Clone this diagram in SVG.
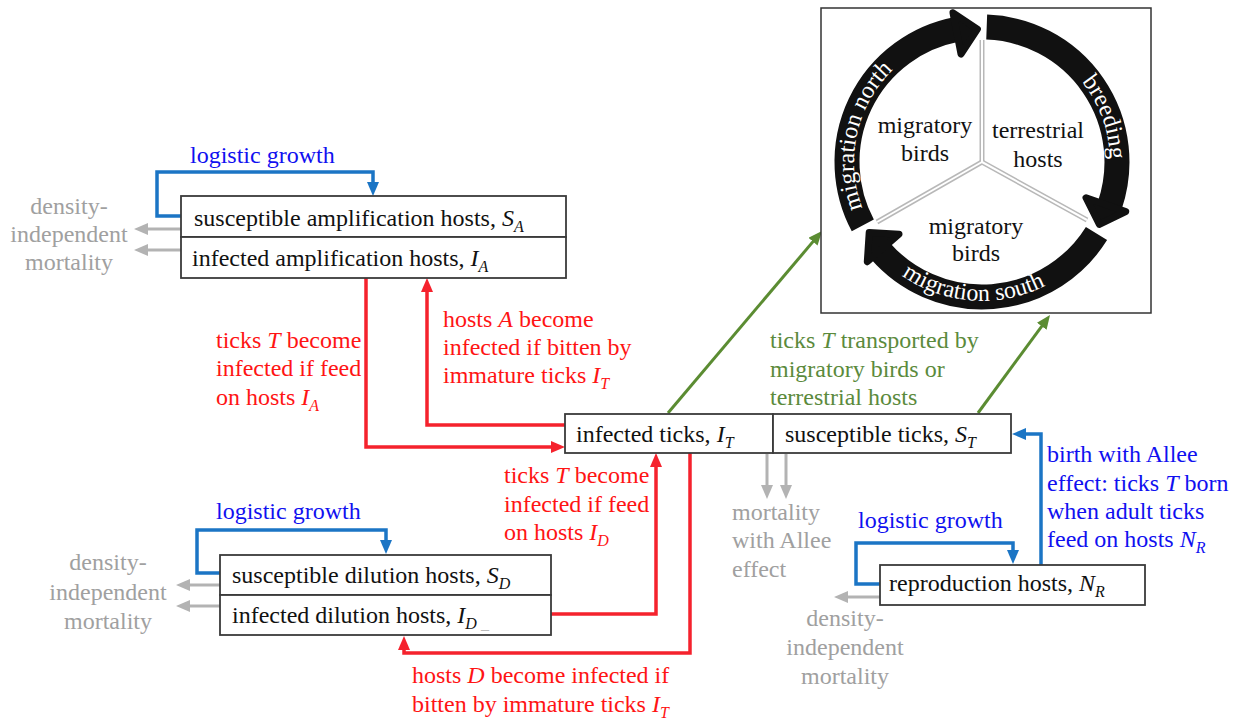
<svg xmlns="http://www.w3.org/2000/svg" width="1236" height="722" viewBox="0 0 1236 722">
<style>
.t{font-family:"Liberation Serif","Times New Roman",serif;font-size:24px}
.s{font-size:16px;font-style:italic}
.i{font-style:italic}
.red{fill:#ff1414}.blue{fill:#1010f0}.gray{fill:#a0a0a0}.green{fill:#5b8a3c}.blk{fill:#111}.wht{fill:#fff}
.mid{text-anchor:middle}
.box{fill:#fff;stroke:#3a3a3a;stroke-width:1.8}
.cr{fill:none;stroke:#f5222d;stroke-width:3.5}
.cb{fill:none;stroke:#1b75c5;stroke-width:3.5}
.cg{fill:none;stroke:#b3b3b3;stroke-width:3}
.cgr{fill:none;stroke:#5b8c32;stroke-width:3}
.spk1{stroke:#b8b8b8;stroke-width:5;fill:none}
.spk2{stroke:#fff;stroke-width:2;fill:none}
.ring{fill:none;stroke:#111;stroke-width:25}
.head{fill:#111;stroke:#111;stroke-width:7;stroke-linejoin:round}
</style>
<defs>
<marker id="mr" markerUnits="userSpaceOnUse" markerWidth="14" markerHeight="12" refX="3" refY="6" orient="auto"><path d="M0,0 L14,6 L0,12 z" fill="#f5222d"/></marker>
<marker id="mb" markerUnits="userSpaceOnUse" markerWidth="14" markerHeight="12" refX="3" refY="6" orient="auto"><path d="M0,0 L14,6 L0,12 z" fill="#1b75c5"/></marker>
<marker id="mg" markerUnits="userSpaceOnUse" markerWidth="14" markerHeight="12" refX="3" refY="6" orient="auto"><path d="M0,0 L14,6 L0,12 z" fill="#b3b3b3"/></marker>
<marker id="mgr" markerUnits="userSpaceOnUse" markerWidth="14" markerHeight="12" refX="3" refY="6" orient="auto"><path d="M0,0 L14,6 L0,12 z" fill="#5b8c32"/></marker>
<path id="pN" d="M891.5,252.5 A128,128 0 0 1 938.2,41.7"/>
<path id="pB" d="M1055.4,57.1 A128,128 0 0 1 1105.6,195.1"/>
<path id="pS" d="M857.1,222.9 A139,139 0 0 0 1097.2,239.7"/>
</defs>

<g id="connectors">
<path class="cr" d="M366,278 V447 H554" marker-end="url(#mr)"/>
<path class="cr" d="M565,425 H427 V289" marker-end="url(#mr)"/>
<path class="cr" d="M551,614 H656 V464" marker-end="url(#mr)"/>
<path class="cr" d="M690,453 V653 H404 V647" marker-end="url(#mr)"/>
<path class="cb" d="M181,216 H157 V172 H373 V185" marker-end="url(#mb)"/>
<path class="cb" d="M220,573 H197 V530 H386 V543" marker-end="url(#mb)"/>
<path class="cb" d="M880,584 H856 V543 H1013 V553" marker-end="url(#mb)"/>
<path class="cb" d="M1041,565 V434 H1023" marker-end="url(#mb)"/>
<path class="cg" d="M181,229 H145" marker-end="url(#mg)"/>
<path class="cg" d="M181,250 H145" marker-end="url(#mg)"/>
<path class="cg" d="M220,585 H187" marker-end="url(#mg)"/>
<path class="cg" d="M220,606 H187" marker-end="url(#mg)"/>
<path class="cg" d="M880,597 H845" marker-end="url(#mg)"/>
<path class="cg" d="M767,454 V488" marker-end="url(#mg)"/>
<path class="cg" d="M786,454 V488" marker-end="url(#mg)"/>
<path class="cgr" d="M668,413 L814.9,239.4" marker-end="url(#mgr)"/>
<path class="cgr" d="M978,413 L1043.5,323.9" marker-end="url(#mgr)"/>
</g>

<g id="labels" class="t">
<text class="blue" x="190" y="163">logistic growth</text>
<text class="blue" x="216" y="519">logistic growth</text>
<text class="blue" x="858" y="528">logistic growth</text>
<text class="gray mid" x="69" y="214">density-</text>
<text class="gray mid" x="69" y="242">independent</text>
<text class="gray mid" x="69" y="270">mortality</text>
<text class="gray mid" x="108" y="570">density-</text>
<text class="gray mid" x="108" y="600">independent</text>
<text class="gray mid" x="108" y="629">mortality</text>
<text class="gray mid" x="845" y="626">density-</text>
<text class="gray mid" x="845" y="655">independent</text>
<text class="gray mid" x="845" y="684">mortality</text>
<text class="gray" x="732" y="520">mortality</text>
<text class="gray" x="732" y="548">with Allee</text>
<text class="gray" x="732" y="577">effect</text>
<text class="red" x="216" y="348">ticks <tspan class="i">T</tspan> become</text>
<text class="red" x="216" y="376">infected if feed</text>
<text class="red" x="216" y="405">on hosts <tspan class="i">I</tspan><tspan class="s" dy="6">A</tspan></text>
<text class="red" x="443" y="327">hosts <tspan class="i">A</tspan> become</text>
<text class="red" x="443" y="355">infected if bitten by</text>
<text class="red" x="443" y="383">immature ticks <tspan class="i">I</tspan><tspan class="s" dy="6">T</tspan></text>
<text class="red" x="504" y="483">ticks <tspan class="i">T</tspan> become</text>
<text class="red" x="504" y="512">infected if feed</text>
<text class="red" x="504" y="540">on hosts <tspan class="i">I</tspan><tspan class="s" dy="6">D</tspan></text>
<text class="red" x="412" y="683">hosts <tspan class="i">D</tspan> become infected if</text>
<text class="red" x="412" y="712">bitten by immature ticks <tspan class="i">I</tspan><tspan class="s" dy="6">T</tspan></text>
<text class="green" x="770" y="348">ticks <tspan class="i">T</tspan> transported by</text>
<text class="green" x="770" y="377">migratory birds or</text>
<text class="green" x="770" y="405">terrestrial hosts</text>
<text class="blue" x="1047" y="462">birth with Allee</text>
<text class="blue" x="1047" y="491">effect: ticks <tspan class="i">T</tspan> born</text>
<text class="blue" x="1047" y="519">when adult ticks</text>
<text class="blue" x="1047" y="547">feed on hosts <tspan class="i">N</tspan><tspan class="s" dy="6">R</tspan></text>
</g>

<g id="amplification-hosts" class="t">
<rect class="box" x="181" y="196" width="385" height="41"/>
<rect class="box" x="181" y="237" width="385" height="41"/>
<text class="blk" x="194" y="226">susceptible amplification hosts, <tspan class="i">S</tspan><tspan class="s" dy="6">A</tspan></text>
<text class="blk" x="192" y="266">infected amplification hosts, <tspan class="i">I</tspan><tspan class="s" dy="6">A</tspan></text>
</g>

<g id="dilution-hosts" class="t">
<rect class="box" x="220" y="555" width="331" height="40"/>
<rect class="box" x="220" y="595" width="331" height="40"/>
<text class="blk" x="232" y="583">susceptible dilution hosts, <tspan class="i">S</tspan><tspan class="s" dy="6">D</tspan></text>
<text class="blk" x="232" y="623">infected dilution hosts, <tspan class="i">I</tspan><tspan class="s" dy="6">D</tspan><tspan style="font-size:16px;fill:#bbb"> _</tspan></text>
</g>

<g id="ticks" class="t">
<rect class="box" x="565" y="414" width="208" height="39"/>
<rect class="box" x="773" y="414" width="238" height="39"/>
<text class="blk" x="576" y="442">infected ticks, <tspan class="i">I</tspan><tspan class="s" dy="6">T</tspan></text>
<text class="blk" x="785" y="442">susceptible ticks, <tspan class="i">S</tspan><tspan class="s" dy="6">T</tspan></text>
</g>

<g id="reproduction-hosts" class="t">
<rect class="box" x="880" y="565" width="265" height="40"/>
<text class="blk" x="889" y="591">reproduction hosts, <tspan class="i">N</tspan><tspan class="s" dy="6">R</tspan></text>
</g>

<g id="seasonal-cycle" class="t">
<rect x="821" y="8" width="330" height="305" fill="#fff" stroke="#333" stroke-width="1.5"/>
<line class="spk1" x1="982" y1="162" x2="982" y2="40"/>
<line class="spk1" x1="982" y1="162" x2="877" y2="222"/>
<line class="spk1" x1="982" y1="162" x2="1087" y2="220"/>
<line class="spk2" x1="982" y1="162" x2="982" y2="40"/>
<line class="spk2" x1="982" y1="162" x2="877" y2="222"/>
<line class="spk2" x1="982" y1="162" x2="1087" y2="220"/>
<path class="ring" d="M862.8,225.4 A135,135 0 0 1 956.2,29.5"/>
<polygon class="head" points="953,12.8 977.4,29.1 961,54"/>
<path class="ring" d="M986.7,27.1 A135,135 0 0 1 1109.6,206"/>
<polygon class="head" points="1125.7,211.5 1099.4,224.4 1086,197.8"/>
<path class="ring" d="M1096.5,233.5 A135,135 0 0 1 880.1,250.6"/>
<polygon class="head" points="867.3,261.7 869.2,232.5 899,234.2"/>
<text class="wht mid"><textPath href="#pN" startOffset="50%">migration north</textPath></text>
<text class="wht mid"><textPath href="#pB" startOffset="50%">breeding</textPath></text>
<text class="wht mid"><textPath href="#pS" startOffset="50%">migration south</textPath></text>
<text class="blk mid" x="925" y="133">migratory</text>
<text class="blk mid" x="925" y="161">birds</text>
<text class="blk mid" x="1038" y="138">terrestrial</text>
<text class="blk mid" x="1038" y="167">hosts</text>
<text class="blk mid" x="976" y="234">migratory</text>
<text class="blk mid" x="976" y="261">birds</text>
</g>
</svg>
